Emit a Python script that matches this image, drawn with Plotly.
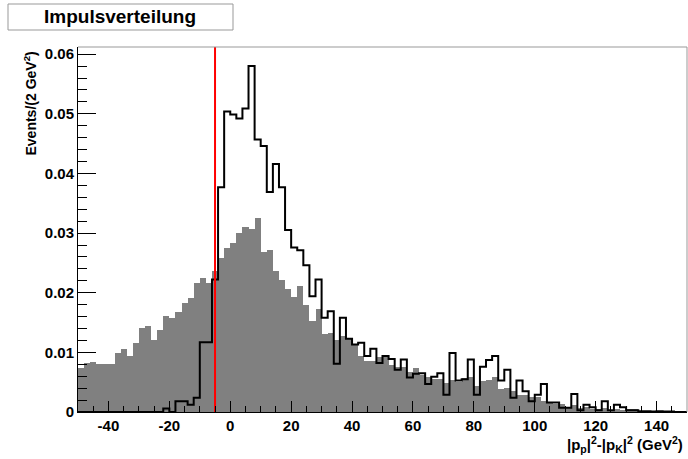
import plotly.graph_objects as go

# Histogram binning: 100 bins of 2 GeV^2 from -50 to 150
x_min, x_max, bin_width = -50, 150, 2
n_bins = 100

# Reference distribution (grey filled histogram)
grey_counts = [
    0.0073, 0.0082, 0.0084, 0.0080, 0.0081, 0.0080, 0.0099, 0.0106, 0.0094, 0.0115,
    0.0141, 0.0144, 0.0121, 0.0137, 0.0161, 0.0158, 0.0167, 0.0182, 0.0191, 0.0216,
    0.0225, 0.0217, 0.0236, 0.0258, 0.0275, 0.0283, 0.0300, 0.0311, 0.0307, 0.0326,
    0.0269, 0.0272, 0.0237, 0.0222, 0.0206, 0.0192, 0.0212, 0.0180, 0.0152, 0.0172,
    0.0131, 0.0132, 0.0120, 0.0128, 0.0123, 0.0114, 0.0094, 0.0085, 0.0085, 0.0093,
    0.0093, 0.0078, 0.0075, 0.0076, 0.0067, 0.0073, 0.0062, 0.0059, 0.0055, 0.0055,
    0.0049, 0.0053, 0.0050, 0.0057, 0.0059, 0.0044, 0.0052, 0.0053, 0.0059, 0.0039,
    0.0040, 0.0036, 0.0029, 0.0029, 0.0025, 0.0025, 0.0019, 0.0016, 0.0014, 0.0013,
    0.0008, 0.0011, 0.0006, 0.0008, 0.0005, 0.0005, 0.0006, 0.0004, 0.0005, 0.0004,
    0.0005, 0.0005, 0.0003, 0.0003, 0.0002, 0.0004, 0.0003, 0.0002, 0.0001, 0.0001,
]

# Signal distribution (black outline histogram)
black_counts = [
    0, 0, 0, 0, 0, 0, 0, 0, 0, 0,
    0, 0, 0, 0, 0.0006, 0, 0.0018, 0.0018, 0.0012, 0.0024,
    0.0117, 0.0117, 0.0222, 0.0377, 0.0504, 0.0499, 0.0492, 0.0509, 0.0580, 0.0457,
    0.0446, 0.0369, 0.0416, 0.0377, 0.0305, 0.0276, 0.0271, 0.0246, 0.0194, 0.0222,
    0.0158, 0.0169, 0.0081, 0.0158, 0.0123, 0.0113, 0.0116, 0.0094, 0.0106, 0.0082,
    0.0094, 0.0089, 0.0071, 0.0088, 0.0058, 0.0064, 0.0065, 0.0047, 0.0059, 0.0065,
    0.0029, 0.0099, 0.0053, 0.0055, 0.0088, 0.0029, 0.0076, 0.0087, 0.0094, 0.0053,
    0.0071, 0.0024, 0.0053, 0.0035, 0.0018, 0.0029, 0.0047, 0.0016, 0.0016, 0.0007,
    0.0007, 0.0030, 0.0003, 0.0012, 0.0008, 0.0003, 0.0018, 0.0003, 0.0012, 0.0008,
    0.0003, 0.0003, 0.0001, 0.0001, 0, 0.0001, 0, 0, 0, 0,
]

cut_value = -5  # selection cut marked by the red line

x_tick_vals = [-40, -20, 0, 20, 40, 60, 80, 100, 120, 140]
x_tick_text = ["-40", "-20", "0", "20", "40", "60", "80", "100", "120", "140"]
y_tick_vals = [0, 0.01, 0.02, 0.03, 0.04, 0.05, 0.06]
y_tick_text = ["0", "0.01", "0.02", "0.03", "0.04", "0.05", "0.06"]

y_top = 0.0612

edges = [x_min + bin_width * i for i in range(n_bins + 1)]
centers = [e + bin_width / 2 for e in edges[:-1]]

FONT = "Liberation Sans, Arial, Helvetica, sans-serif"

fig = go.Figure()

fig.add_trace(go.Bar(
    x=centers, y=grey_counts, width=bin_width,
    marker=dict(color="#808080", line=dict(width=0)),
    showlegend=False, hoverinfo="skip",
))

fig.add_trace(go.Scatter(
    x=edges, y=black_counts + [black_counts[-1]],
    mode="lines", line=dict(color="black", width=2, shape="hv"),
    showlegend=False, hoverinfo="skip",
))

fig.add_trace(go.Scatter(
    x=[cut_value, cut_value], y=[0, y_top],
    mode="lines", line=dict(color="#ff0000", width=2),
    showlegend=False, hoverinfo="skip",
))

fig.update_layout(
    width=688, height=459,
    margin=dict(l=78, r=1, t=47, b=47),
    paper_bgcolor="white", plot_bgcolor="white",
    bargap=0,
    font=dict(family=FONT, color="black"),
    xaxis=dict(
        range=[x_min, x_max],
        tickmode="array", tickvals=x_tick_vals, ticktext=x_tick_text,
        ticks="inside", ticklen=11, tickwidth=1, tickcolor="black",
        minor=dict(dtick=5, tick0=0, ticks="inside", ticklen=6, tickcolor="black"),
        tickfont=dict(size=15, weight="bold"),
        showgrid=False, zeroline=False,
        showline=True, linecolor="black", linewidth=1,
        layer="above traces",
    ),
    yaxis=dict(
        range=[0, y_top],
        tickmode="array", tickvals=y_tick_vals, ticktext=y_tick_text,
        ticks="inside", ticklen=18, tickwidth=1, tickcolor="black",
        minor=dict(dtick=0.002, tick0=0, ticks="inside", ticklen=9, tickcolor="black"),
        tickfont=dict(size=15, weight="bold"),
        showgrid=False, zeroline=False,
        showline=True, linecolor="black", linewidth=1,
        layer="above traces",
    ),
    shapes=[
        # frame top and right edges
        dict(type="line", xref="paper", yref="paper", x0=0, x1=1, y0=1, y1=1,
             line=dict(color="#999999", width=1)),
        dict(type="line", xref="paper", yref="paper", x0=1, x1=1, y0=0, y1=1,
             line=dict(color="#999999", width=1)),
    ],
    annotations=[
        dict(text="<b>Events/(2 GeV<sup>2</sup>)</b>", textangle=-90,
             xref="paper", yref="paper", x=-0.0795, y=0.992,
             xanchor="center", yanchor="top", showarrow=False,
             font=dict(size=14, family=FONT)),
        dict(text="<b>|p<sub>p</sub>|<sup>2</sup>-|p<sub>K</sub>|<sup>2</sup> (GeV<sup>2</sup>)</b>",
             xref="paper", yref="paper", x=0.997, y=-0.09,
             xanchor="right", yanchor="middle", showarrow=False,
             font=dict(size=15, family=FONT)),
        dict(text="<b>Impulsverteilung</b>",
             xref="paper", yref="paper",
             x=(120 - 78) / 609, y=(412 - 17) / 365,
             xanchor="center", yanchor="middle", showarrow=False,
             font=dict(size=19, family=FONT)),
    ],
)

# Title box
fig.add_shape(type="rect", xref="paper", yref="paper",
              x0=(8 - 78) / 609, x1=(233 - 78) / 609,
              y0=(412 - 30) / 365, y1=(412 - 4) / 365,
              line=dict(color="#999999", width=1), fillcolor="white", layer="below")

fig.write_html("out.html")
